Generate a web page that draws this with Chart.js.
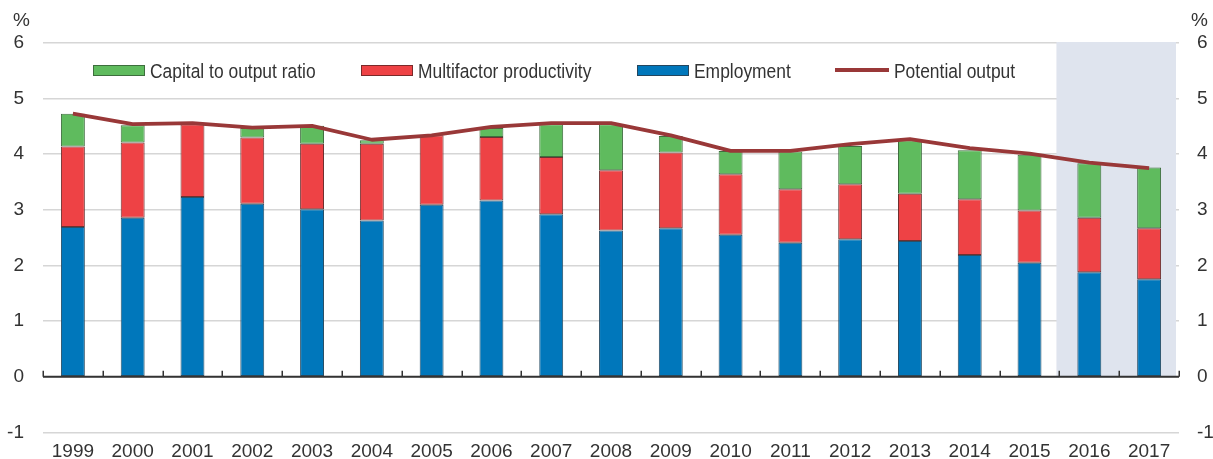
<!DOCTYPE html>
<html>
<head>
<meta charset="utf-8">
<script src="https://cdn.jsdelivr.net/npm/chart.js@4/dist/chart.umd.min.js"></script>
<style>
  html, body { margin: 0; padding: 0; background: #fff; }
  #wrap { position: relative; width: 1213px; height: 459px; overflow: hidden; }
  canvas { position: absolute; left: 0; top: 0; }
  .lg { position: absolute; color: #333; white-space: nowrap; line-height: 1; transform-origin: 0 50%; }
  .sw { position: absolute; box-sizing: border-box; }
</style>
</head>
<body>
<div id="wrap">
  <canvas id="c" width="1213" height="459"></canvas>
</div>
<script>
const years = ["1999","2000","2001","2002","2003","2004","2005","2006","2007","2008","2009","2010","2011","2012","2013","2014","2015","2016","2017"];
const employment = [2.69, 2.86, 3.23, 3.11, 3.01, 2.81, 3.09, 3.17, 2.92, 2.63, 2.67, 2.55, 2.41, 2.47, 2.44, 2.19, 2.05, 1.88, 1.75];
const multifactor = [1.45, 1.35, 1.31, 1.19, 1.18, 1.38, 1.25, 1.14, 1.03, 1.08, 1.36, 1.09, 0.96, 0.99, 0.85, 1.00, 0.94, 0.98, 0.92];
const capitalRatio = [0.59, 0.31, 0.02, 0.17, 0.32, 0.06, -0.03, 0.16, 0.59, 0.83, 0.30, 0.42, 0.68, 0.69, 0.96, 0.88, 1.00, 0.98, 1.09];
const potential = [4.73, 4.54, 4.56, 4.48, 4.51, 4.26, 4.34, 4.49, 4.56, 4.56, 4.34, 4.06, 4.06, 4.18, 4.27, 4.11, 4.01, 3.85, 3.75];
const yTicks = [-1, 0, 1, 2, 3, 4, 5, 6];
const projectionYears = ["2016", "2017"];
const legendLabels = ["Capital to output ratio", "Multifactor productivity", "Employment", "Potential output"];

const COL_GREEN = '#5fbb5e', COL_RED = '#ee4245', COL_BLUE = '#0077bb', COL_LINE = '#993838';
const TXT = '#333333';

function hasFont(name) {
  const c = document.createElement('canvas').getContext('2d');
  const s = 'Capital to output ratio 1999';
  c.font = '40px monospace'; const a = c.measureText(s).width;
  c.font = '40px "' + name + '", monospace'; const b = c.measureText(s).width;
  c.font = '40px serif'; const a2 = c.measureText(s).width;
  c.font = '40px "' + name + '", serif'; const b2 = c.measureText(s).width;
  return a !== b || a2 !== b2;
}
let FAM, FS, LFS, LSCALE;
if (hasFont('Liberation Sans Narrow')) { FAM = '"Liberation Sans Narrow", sans-serif'; FS = 21; LFS = 21; LSCALE = 1; }
else { FAM = '"Liberation Sans", Arial, sans-serif'; FS = 19; LFS = 20.5; LSCALE = 0.85; }

const wrap = document.getElementById('wrap');
function addSwatch(x, y, w, h, bg, border) {
  const d = document.createElement('div'); d.className = 'sw';
  d.style.left = x + 'px'; d.style.top = y + 'px'; d.style.width = w + 'px'; d.style.height = h + 'px';
  d.style.background = bg; if (border) d.style.border = '1px solid ' + border;
  wrap.appendChild(d);
}
function addText(x, yc, t) {
  const d = document.createElement('div'); d.className = 'lg';
  d.style.font = LFS + 'px ' + FAM; d.style.left = x + 'px'; d.style.top = (yc - LFS / 2 - 1) + 'px';
  d.style.transform = 'scaleX(' + LSCALE + ')';
  d.textContent = t; wrap.appendChild(d);
}
const LY = 70;
addSwatch(93, 65, 52, 11, COL_GREEN, '#3d6e3d'); addText(150, LY, legendLabels[0]);
addSwatch(361, 65, 52, 11, COL_RED, '#7a2a2a'); addText(418, LY, legendLabels[1]);
addSwatch(637, 65, 52, 11, COL_BLUE, '#24465e'); addText(694, LY, legendLabels[2]);
addSwatch(835, 68, 54, 4, COL_LINE, null); addText(894, LY, legendLabels[3]);

const decorPlugin = {
  id: 'decor',
  beforeDatasetsDraw(chart) {
    const { ctx, chartArea, scales } = chart;
    const x = scales.x, y = scales.y;
    const w = x.getPixelForValue(1) - x.getPixelForValue(0);
    const i0 = years.indexOf(projectionYears[0]);
    const i1 = years.indexOf(projectionYears[projectionYears.length - 1]);
    const left = x.getPixelForValue(i0) - 0.55 * w;
    const right = x.getPixelForValue(i1) + 0.45 * w;
    ctx.save();
    ctx.fillStyle = '#dfe4ee';
    ctx.fillRect(left, chartArea.top - 1, right - left, y.getPixelForValue(0) - chartArea.top + 1);
    ctx.restore();
  },
  afterDatasetsDraw(chart) {
    const { ctx, chartArea, scales } = chart;
    const x = scales.x, y = scales.y;
    const y0 = y.getPixelForValue(0);
    ctx.save();
    ctx.strokeStyle = '#333';
    ctx.lineWidth = 2;
    ctx.beginPath(); ctx.moveTo(chartArea.left, y0); ctx.lineTo(chartArea.right, y0); ctx.stroke();
    ctx.lineWidth = 1.5;
    for (let i = 0; i <= years.length; i++) {
      const px = Math.round(x.getPixelForValue(i - 0.5)) + 0.25;
      ctx.beginPath(); ctx.moveTo(px, y0); ctx.lineTo(px, y0 - 6); ctx.stroke();
    }
    ctx.restore();
  },
  afterDraw(chart) {
    const { ctx, scales } = chart;
    ctx.save();
    ctx.fillStyle = TXT;
    ctx.font = FS + 'px ' + FAM;
    ctx.textBaseline = 'middle';
    ctx.textAlign = 'right';
    ctx.fillText('%', scales.y.right - 13, 21);
    ctx.textAlign = 'left';
    ctx.fillText('%', scales.y2.left + 12, 21);
    ctx.restore();
  }
};

const barCommon = { borderWidth: 1, borderSkipped: false, stack: 's', categoryPercentage: 1, barPercentage: 0.4 };

new Chart(document.getElementById('c'), {
  type: 'bar',
  data: {
    labels: years,
    datasets: [
      { type: 'line', label: legendLabels[3], data: potential, borderColor: COL_LINE, backgroundColor: COL_LINE,
        borderWidth: 3.8, pointRadius: 0, tension: 0, borderJoinStyle: 'round', borderCapStyle: 'butt', order: 0, yAxisID: 'y' },
      Object.assign({ label: legendLabels[2], data: employment, backgroundColor: COL_BLUE, borderColor: '#2a4f66', order: 1 }, barCommon),
      Object.assign({ label: legendLabels[1], data: multifactor, backgroundColor: COL_RED, borderColor: '#6e3030', order: 2 }, barCommon),
      Object.assign({ label: legendLabels[0], data: capitalRatio, backgroundColor: COL_GREEN, borderColor: '#3f6e3f', order: 3 }, barCommon)
    ]
  },
  options: {
    responsive: false,
    animation: false,
    devicePixelRatio: 1,
    layout: { padding: { top: 43, bottom: 0, left: 0, right: 0 } },
    plugins: { legend: { display: false }, tooltip: { enabled: false } },
    scales: {
      x: {
        stacked: true,
        offset: true,
        grid: { display: false, drawTicks: false },
        border: { display: false },
        ticks: { color: TXT, font: { family: FAM, size: FS }, padding: 8, maxRotation: 0, autoSkip: false },
        afterFit(s) { s.height = 26.7; }
      },
      y: {
        stacked: true,
        position: 'left',
        min: -1, max: 6,
        afterBuildTicks(s) { s.ticks = yTicks.map(v => ({ value: v })); },
        grid: { color: '#d6d6d6', lineWidth: 1.5, drawTicks: false },
        border: { display: false },
        ticks: { color: TXT, font: { family: FAM, size: FS }, padding: 19 },
        afterFit(s) { s.width = 43; s.paddingTop = 0; s.paddingBottom = 0; }
      },
      y2: {
        position: 'right',
        min: -1, max: 6,
        afterBuildTicks(s) { s.ticks = yTicks.map(v => ({ value: v })); },
        grid: { display: false, drawTicks: false },
        border: { display: false },
        ticks: { color: TXT, font: { family: FAM, size: FS }, padding: 18 },
        afterFit(s) { s.width = 34; s.paddingTop = 0; s.paddingBottom = 0; }
      }
    }
  },
  plugins: [decorPlugin]
});
</script>
</body>
</html>
